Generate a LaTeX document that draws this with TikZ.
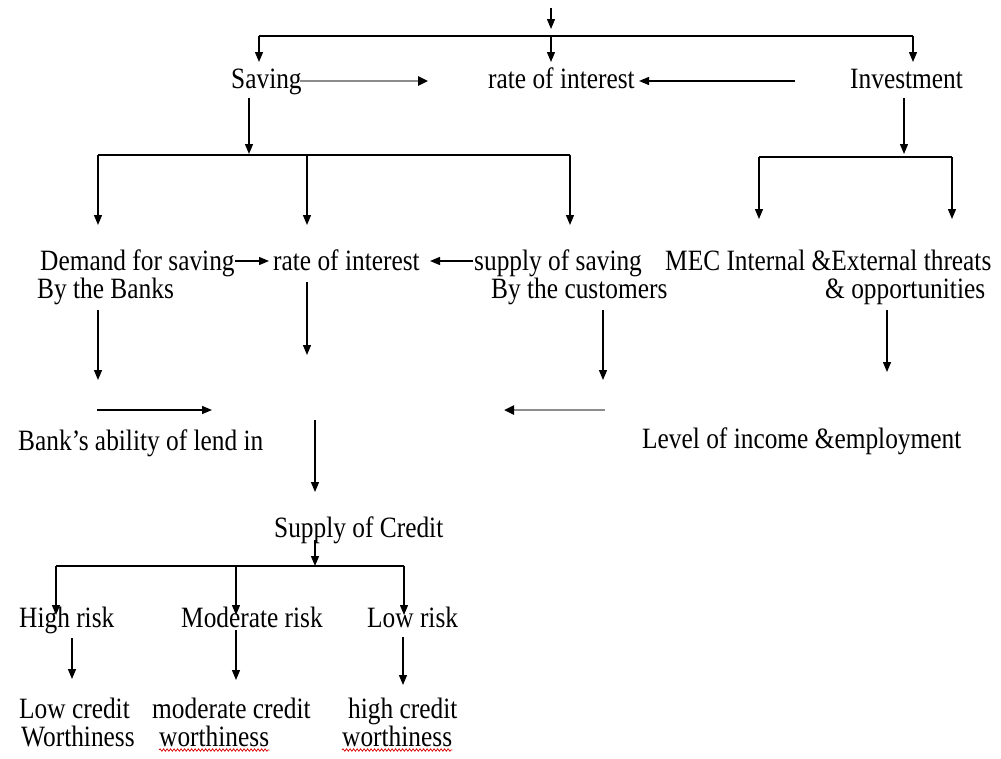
\documentclass[tikz,border=0pt]{standalone}
\usepackage{fontspec}
\setmainfont{Liberation Serif}[FakeStretch=0.86]
\usetikzlibrary{arrows.meta,decorations.pathmorphing}
\begin{document}
\begin{tikzpicture}[x=1pt,y=-1pt,
  lbl/.style={anchor=base west,inner sep=0pt,font=\fontsize{29.5}{32}\selectfont},
  conn/.style={line width=1.3pt,-{Triangle[length=10pt,width=8pt]}},
  plain/.style={line width=1.3pt},
  grayconn/.style={line width=2.4pt,draw=black!45,-{Triangle[length=10pt,width=9pt,color=black,fill=black]}},
  spell/.style={draw=red!85!black,line width=0.7pt,decorate,decoration={snake,amplitude=1.2pt,segment length=3.5pt}}]
\useasboundingbox (0,0) rectangle (1001,758);
% texts
\node[lbl] (sav) at (231,88) {Saving};
\node[lbl] (roi1) at (488,88) {rate of interest};
\node[lbl] (inv) at (850,88) {Investment};
\node[lbl] (dem) at (40,270) {Demand for saving};
\node[lbl] (roi2) at (273,270) {rate of interest};
\node[lbl] (sup) at (474,270) {supply of saving};
\node[lbl] (mec) at (665,270) {MEC Internal \&External threats};
\node[lbl] (banks) at (37,298) {By the Banks};
\node[lbl] (cust) at (491,298) {By the customers};
\node[lbl] (opp) at (825,298) {\& opportunities};
\node[lbl] (abil) at (18,450) {Bank’s ability of lend in};
\node[lbl] (lev) at (642,448) {Level of income \&employment};
\node[lbl] (soc) at (274,537) {Supply of Credit};
\node[lbl] (hr) at (19,627) {High risk};
\node[lbl] (mr) at (181,627) {Moderate risk};
\node[lbl] (lr) at (367,627) {Low risk};
\node[lbl] (lc1) at (19,718) {Low credit};
\node[lbl] (lc2) at (21,746) {Worthiness};
\node[lbl] (mc1) at (152,718) {moderate credit};
\node[lbl] (mc2) at (159,746) {worthiness};
\node[lbl] (hc1) at (348,718) {high credit};
\node[lbl] (hc2) at (342,746) {worthiness};
% coordinates
\coordinate (t0) at (551,8);
\coordinate (t1) at (551,29);
\coordinate (b1l) at (259,36); \coordinate (b1m) at (551,36); \coordinate (b1r) at (913,36);
\coordinate (d1l) at (259,62); \coordinate (d1m) at (551,62); \coordinate (d1r) at (913,62);
\coordinate (g1s) at (300,81); \coordinate (g1e) at (428,81);
\coordinate (i1s) at (795,81); \coordinate (i1e) at (639,81);
\coordinate (s2s) at (249,98); \coordinate (s2e) at (249,154);
\coordinate (b2l) at (98,155); \coordinate (b2m) at (307,155); \coordinate (b2r) at (570,155);
\coordinate (d2l) at (98,225); \coordinate (d2m) at (307,225); \coordinate (d2r) at (570,225);
\coordinate (v2s) at (904,98); \coordinate (v2e) at (904,154);
\coordinate (b3l) at (759,157); \coordinate (b3r) at (952,157);
\coordinate (d3l) at (759,219); \coordinate (d3r) at (952,219);
\coordinate (dr1) at (235,261); \coordinate (dr2) at (269,261);
\coordinate (sr1) at (473,261); \coordinate (sr2) at (430,261);
\coordinate (a1s) at (98,310); \coordinate (a1e) at (98,380);
\coordinate (a2s) at (307,282); \coordinate (a2e) at (307,355);
\coordinate (a3s) at (603,310); \coordinate (a3e) at (603,380);
\coordinate (a4s) at (887,310); \coordinate (a4e) at (887,372);
\coordinate (h1s) at (97,410); \coordinate (h1e) at (212,410);
\coordinate (h2s) at (605,410); \coordinate (h2e) at (504,410);
\coordinate (c1s) at (315,420); \coordinate (c1e) at (315,492);
\coordinate (c2s) at (315,540); \coordinate (c2e) at (315,566);
\coordinate (b4l) at (56,566); \coordinate (b4m) at (236,566); \coordinate (b4r) at (404,566);
\coordinate (d4l) at (56,615); \coordinate (d4m) at (236,615); \coordinate (d4r) at (404,615);
\coordinate (r1s) at (72,638); \coordinate (r1e) at (72,679);
\coordinate (r2s) at (236,630); \coordinate (r2e) at (236,680);
\coordinate (r3s) at (403,637); \coordinate (r3e) at (403,685);
% connectors
\draw[conn] (t0) -- (t1);
\draw[plain] (b1l) -- (b1r);
\draw[conn] (b1l) -- (d1l);
\draw[conn] (b1m) -- (d1m);
\draw[conn] (b1r) -- (d1r);
\draw[grayconn] (g1s) -- (g1e);
\draw[conn] (i1s) -- (i1e);
\draw[conn] (s2s) -- (s2e);
\draw[plain] (b2l) -- (b2r);
\draw[conn] (b2l) -- (d2l);
\draw[conn] (b2m) -- (d2m);
\draw[conn] (b2r) -- (d2r);
\draw[conn] (v2s) -- (v2e);
\draw[plain] (b3l) -- (b3r);
\draw[conn] (b3l) -- (d3l);
\draw[conn] (b3r) -- (d3r);
\draw[conn] (dr1) -- (dr2);
\draw[conn] (sr1) -- (sr2);
\draw[conn] (a1s) -- (a1e);
\draw[conn] (a2s) -- (a2e);
\draw[conn] (a3s) -- (a3e);
\draw[conn] (a4s) -- (a4e);
\draw[conn] (h1s) -- (h1e);
\draw[grayconn] (h2s) -- (h2e);
\draw[conn] (c1s) -- (c1e);
\draw[conn] (c2s) -- (c2e);
\draw[plain] (b4l) -- (b4r);
\draw[conn] (b4l) -- (d4l);
\draw[conn] (b4m) -- (d4m);
\draw[conn] (b4r) -- (d4r);
\draw[conn] (r1s) -- (r1e);
\draw[conn] (r2s) -- (r2e);
\draw[conn] (r3s) -- (r3e);
% spell-check underlines
\draw[spell] ([yshift=-4pt]mc2.base west) -- ([yshift=-4pt]mc2.base east);
\draw[spell] ([yshift=-4pt]hc2.base west) -- ([yshift=-4pt]hc2.base east);
\end{tikzpicture}
\end{document}
